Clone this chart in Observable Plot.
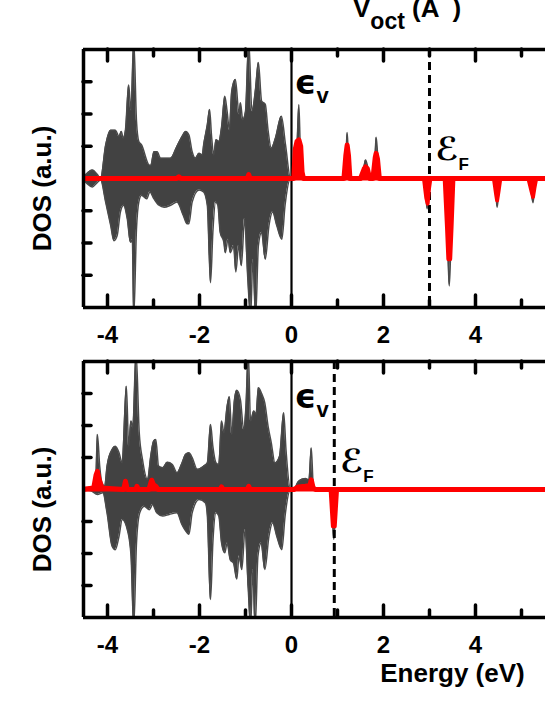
<!DOCTYPE html>
<html><head><meta charset="utf-8">
<script src="https://cdn.jsdelivr.net/npm/d3@7"></script>
<script src="https://cdn.jsdelivr.net/npm/@observablehq/plot@0.6"></script>
<style>
html,body{margin:0;padding:0;background:#fff;overflow:hidden;}
#wrap{position:relative;width:545px;height:705px;overflow:hidden;}
.abs{position:absolute;left:0;}
</style></head><body><div id="wrap">
<svg class="abs" style="top:0" width="545" height="40"><text x="353" y="17" font-family="Liberation Sans, Arial, sans-serif" font-weight="bold" font-size="26">V<tspan dy="12" font-size="23">oct</tspan><tspan dy="-12"> (A</tspan><tspan dy="-16" font-size="22">−</tspan><tspan dy="16">)</tspan></text></svg>
</div>
<script>
// ---------- DATA (energy in eV, DOS in arbitrary units) ----------
const xTicks = [-4, -2, 0, 2, 4];
const xTickLabels = ["-4", "-2", "0", "2", "4"];
const xMinorTicks = [-3, -1, 1, 3, 5];
const yTicks = [-3, -2, -1, 1, 2, 3];
const fermiTop = 3.0;
const fermiBottom = 0.93;

const topGrayUp = [[-4.55,0],[-4.45,0.15],[-4.33,0.26],[-4.22,0.12],[-4.15,0],[-4.04,1.04],[-3.93,1.5],[-3.83,1.5],[-3.75,1.3],[-3.70,1.46],[-3.66,1.25],[-3.61,1.5],[-3.54,2.9],[-3.49,2.1],[-3.43,4.3],[-3.37,1.77],[-3.32,1.15],[-3.26,1.04],[-3.10,0.42],[-3.06,0.4],[-2.99,0.83],[-2.92,0.83],[-2.85,0.63],[-2.63,0.63],[-2.49,1.0],[-2.38,1.3],[-2.30,1.46],[-2.23,1.35],[-2.16,0.83],[-2.09,0.63],[-2.01,0.78],[-1.94,0.73],[-1.91,1.04],[-1.83,1.67],[-1.78,2.14],[-1.74,1.35],[-1.69,0.73],[-1.64,1.2],[-1.58,1.15],[-1.52,1.6],[-1.45,2.55],[-1.40,2.08],[-1.35,1.5],[-1.30,2.7],[-1.22,3.07],[-1.14,1.98],[-1.11,2.35],[-1.06,1.82],[-1.0,2.08],[-0.93,4.3],[-0.86,2.08],[-0.78,2.8],[-0.72,3.6],[-0.65,2.4],[-0.57,2.3],[-0.51,1.5],[-0.44,0.94],[-0.35,1.25],[-0.22,1.93],[-0.13,1.04],[-0.02,0],[0.05,0],[0.12,1.0],[0.16,2.29],[0.19,1.0],[0.26,0],[1.14,0],[1.19,0.9],[1.21,1.43],[1.23,0.9],[1.27,0],[1.50,0],[1.58,0.4],[1.61,0.57],[1.65,0.4],[1.70,0],[1.77,0],[1.82,0.8],[1.84,1.28],[1.87,0.8],[1.91,0],[5.6,0]];
const topGrayDown = [[-4.55,0],[-4.45,-0.15],[-4.33,-0.26],[-4.22,-0.12],[-4.15,-0.05],[-4.04,-0.73],[-3.93,-1.46],[-3.86,-1.93],[-3.79,-1.77],[-3.72,-1.04],[-3.65,-0.83],[-3.57,-1.25],[-3.50,-1.98],[-3.46,-1.9],[-3.43,-4.3],[-3.37,-1.56],[-3.32,-0.73],[-3.26,-0.52],[-3.15,-0.63],[-3.08,-0.42],[-2.99,-0.63],[-2.88,-0.83],[-2.77,-0.89],[-2.63,-0.83],[-2.49,-0.73],[-2.35,-1.15],[-2.27,-1.4],[-2.23,-1.4],[-2.16,-0.73],[-2.01,-0.36],[-1.91,-0.42],[-1.83,-0.83],[-1.76,-3.23],[-1.71,-1.67],[-1.65,-0.73],[-1.60,-0.83],[-1.55,-1.67],[-1.47,-1.98],[-1.44,-2.3],[-1.38,-1.88],[-1.33,-2.3],[-1.26,-2.08],[-1.21,-2.9],[-1.15,-2.08],[-1.09,-2.7],[-1.02,-1.25],[-0.95,-3.1],[-0.89,-4.3],[-0.84,-2.5],[-0.78,-4.3],[-0.72,-2.08],[-0.65,-1.67],[-0.57,-2.5],[-0.49,-1.46],[-0.41,-1.04],[-0.32,-1.46],[-0.21,-1.88],[-0.14,-0.83],[-0.02,0],[2.88,0],[2.93,-0.7],[2.95,-0.94],[2.98,-0.5],[3.02,0],[3.33,0],[3.40,-2.3],[3.43,-3.33],[3.46,-2.3],[3.52,0],[4.40,0],[4.45,-0.6],[4.47,-0.89],[4.50,-0.5],[4.54,0],[5.15,0],[5.22,-0.5],[5.25,-0.75],[5.28,-0.4],[5.32,0],[5.6,0]];
const topRedUp = [[-4.55,0],[-2.5,0],[-2.45,0.05],[-2.4,0],[-0.96,0],[-0.93,0.12],[-0.90,0],[-0.02,0],[0.05,0],[0.08,0.9],[0.12,1.15],[0.16,1.2],[0.2,1.0],[0.23,0.2],[0.26,0],[1.14,0],[1.18,0.7],[1.21,1.04],[1.24,0.7],[1.27,0],[1.50,0],[1.58,0.3],[1.61,0.36],[1.65,0.3],[1.70,0],[1.77,0],[1.82,0.65],[1.84,0.78],[1.87,0.6],[1.91,0],[5.6,0]];
const topRedDown = [[-4.55,0],[2.88,0],[2.93,-0.6],[2.96,-0.78],[2.99,-0.3],[3.02,0],[3.33,0],[3.38,-1.5],[3.41,-2.5],[3.45,-2.5],[3.48,-1.5],[3.52,0],[4.40,0],[4.45,-0.5],[4.47,-0.68],[4.50,-0.4],[4.54,0],[5.15,0],[5.22,-0.4],[5.25,-0.57],[5.28,-0.3],[5.32,0],[5.6,0]];

const bottomGrayUp = [[-4.55,0],[-4.35,0.03],[-4.26,0.1],[-4.22,1.72],[-4.17,0.73],[-4.12,0.2],[-4.06,0.1],[-4.01,0.73],[-3.90,1.25],[-3.83,1.35],[-3.75,1.15],[-3.68,0.83],[-3.59,3.23],[-3.54,1.35],[-3.49,2.14],[-3.45,1.93],[-3.38,4.3],[-3.31,1.77],[-3.24,0.94],[-3.13,0.31],[-3.06,1.04],[-3.0,1.5],[-2.95,1.56],[-2.89,0.73],[-2.80,0.68],[-2.70,0.85],[-2.59,0.78],[-2.49,0.52],[-2.38,0.83],[-2.30,1.1],[-2.23,1.15],[-2.16,1.0],[-2.05,0.63],[-1.91,0.73],[-1.83,0.83],[-1.76,2.03],[-1.71,1.35],[-1.64,0.83],[-1.58,0.78],[-1.52,2.14],[-1.47,1.77],[-1.40,2.6],[-1.35,2.9],[-1.30,1.72],[-1.24,2.8],[-1.19,3.1],[-1.11,2.8],[-1.04,1.88],[-0.99,2.6],[-0.94,4.3],[-0.89,2.14],[-0.82,2.45],[-0.77,2.35],[-0.72,3.18],[-0.65,3.0],[-0.58,2.7],[-0.51,1.98],[-0.44,1.46],[-0.36,0.83],[-0.26,1.04],[-0.17,2.4],[-0.12,1.25],[-0.02,0],[0.05,0],[0.15,0.25],[0.30,0.34],[0.38,0.3],[0.43,1.3],[0.47,0.2],[0.52,0],[5.6,0]];
const bottomGrayDown = [[-4.55,0],[-4.35,-0.05],[-4.22,-0.16],[-4.10,-0.1],[-4.01,-0.73],[-3.90,-1.77],[-3.83,-1.88],[-3.75,-1.46],[-3.68,-0.94],[-3.57,-1.25],[-3.49,-2.03],[-3.43,-4.3],[-3.37,-1.67],[-3.30,-0.73],[-3.20,-0.52],[-3.09,-0.63],[-3.02,-0.47],[-2.93,-0.73],[-2.80,-0.83],[-2.66,-0.78],[-2.49,-0.73],[-2.38,-1.1],[-2.27,-1.35],[-2.23,-1.4],[-2.16,-0.73],[-2.01,-0.31],[-1.87,-0.42],[-1.83,-0.8],[-1.76,-3.44],[-1.71,-1.67],[-1.64,-0.73],[-1.58,-0.83],[-1.52,-1.67],[-1.45,-1.98],[-1.40,-1.67],[-1.33,-2.2],[-1.26,-2.3],[-1.19,-2.8],[-1.14,-2.08],[-1.08,-2.5],[-1.01,-1.25],[-0.94,-3.1],[-0.89,-4.3],[-0.84,-2.5],[-0.79,-4.3],[-0.73,-2.08],[-0.66,-1.67],[-0.58,-2.5],[-0.49,-1.46],[-0.41,-1.04],[-0.32,-1.46],[-0.21,-1.88],[-0.14,-0.83],[-0.02,0],[0.85,0],[0.89,-0.9],[0.92,-1.56],[0.95,-0.9],[0.99,0],[5.6,0]];
const bottomRedUp = [[-4.55,0],[-4.30,0.05],[-4.25,0.45],[-4.22,0.57],[-4.18,0.3],[-4.12,0.05],[-3.65,0],[-3.61,0.26],[-3.57,0],[-3.38,0],[-3.36,0.1],[-3.33,0],[-3.10,0],[-3.06,0.2],[-3.04,0.29],[-3.0,0.15],[-2.95,0.1],[-2.9,0],[-1.55,0],[-1.52,0.08],[-1.49,0],[-0.96,0],[-0.93,0.1],[-0.90,0],[-0.02,0],[0.05,0],[0.15,0.08],[0.3,0.1],[0.40,0.12],[0.43,0.3],[0.47,0.05],[0.52,0],[5.6,0]];
const bottomRedDown = [[-4.55,0],[0.85,0],[0.88,-0.7],[0.9,-1.15],[0.94,-1.15],[0.96,-0.7],[0.99,0],[5.6,0]];

// ---------- DRAWING ----------
(function () {
const FONT = "Liberation Sans, Arial, sans-serif";
const GRAY = "#424242";
const RED = "#ff0000";

function panel(o) {
  const width = 545, marginLeft = 83, marginRight = 0;
  const fh = o.height - o.marginTop - o.marginBottom;
  const fw = width - marginLeft - marginRight;
  const X = d => d[0], Y = d => d[1];
  const tick = {stroke: "black", strokeWidth: 3.5, strokeLinecap: "round"};
  const marks = [
    Plot.areaY(o.grayUp, {x: X, y: Y, fill: GRAY, curve: "monotone-x", clip: true}),
    Plot.areaY(o.grayDown, {x: X, y: Y, fill: GRAY, curve: "monotone-x", clip: true}),
    Plot.lineY(o.grayUp, {x: X, y: Y, stroke: "#4a4a4a", strokeWidth: 1.5, curve: "monotone-x", clip: true}),
    Plot.lineY(o.grayDown, {x: X, y: Y, stroke: "#4a4a4a", strokeWidth: 1.5, curve: "monotone-x", clip: true}),
    Plot.ruleX([0], {stroke: "black", strokeWidth: 2.2}),
    Plot.ruleX([o.fermi], {stroke: "black", strokeWidth: 3, strokeDasharray: "8,5"}),
    Plot.areaY(o.redUp, {x: X, y: Y, fill: RED, clip: true}),
    Plot.areaY(o.redDown, {x: X, y: Y, fill: RED, clip: true}),
    Plot.lineY(o.redUp, {x: X, y: Y, stroke: RED, strokeWidth: 5, clip: true}),
    Plot.lineY(o.redDown, {x: X, y: Y, stroke: RED, strokeWidth: 4, clip: true}),
    Plot.ruleX([-4.522], {stroke: "black", strokeWidth: 3.5}),
    Plot.ruleY([4, -4], {stroke: "black", strokeWidth: 3.5}),
    Plot.ruleX(xTicks, {...tick, insetBottom: fh - 12}),
    Plot.ruleX(xMinorTicks, {...tick, insetBottom: fh - 7}),
    Plot.ruleX(xTicks, {...tick, insetTop: fh - 12}),
    Plot.ruleX(xMinorTicks, {...tick, insetTop: fh - 7}),
    Plot.ruleY(yTicks, {...tick, insetRight: fw - 8}),
    Plot.axisX({ticks: xTicks, tickSize: 0, tickPadding: 18, label: null, tickFormat: (d, i) => xTickLabels[i],
      fontSize: 24, fontWeight: "bold", fontFamily: FONT}),
    Plot.text(["DOS (a.u.)"], {frameAnchor: "left", textAnchor: "middle", lineAnchor: "middle",
      rotate: -90, dx: -41, dy: o.labelDy, fontSize: 26, fontWeight: "bold", fontFamily: FONT}),
    Plot.text([{x: 0}], {x: "x", text: () => "ϵ", frameAnchor: "top", textAnchor: "start", lineAnchor: "middle",
      dx: 3, dy: o.epsDy, fontSize: 34, fontWeight: "bold", fontFamily: "DejaVu Sans"}),
    Plot.text([{x: 0}], {x: "x", text: () => "v", frameAnchor: "top", textAnchor: "start", lineAnchor: "bottom",
      dx: 25, dy: o.epsDy + 19, fontSize: 22, fontWeight: "bold", fontFamily: FONT}),
    Plot.text([{x: o.fermi}], {x: "x", text: () => "ℰ", frameAnchor: "top", textAnchor: "start", lineAnchor: "middle",
      dx: 6, dy: o.efDy, fontSize: 32, fontWeight: "bold", fontFamily: "DejaVu Sans"}),
    Plot.text([{x: o.fermi}], {x: "x", text: () => "F", frameAnchor: "top", textAnchor: "start", lineAnchor: "bottom",
      dx: 29, dy: o.efDy + 20, fontSize: 17, fontWeight: "bold", fontFamily: FONT})
  ];
  if (o.xLabel) marks.push(Plot.text([o.xLabel], {frameAnchor: "bottom", textAnchor: "middle", lineAnchor: "middle",
      dx: 138, dy: 56, fontSize: 26, fontWeight: "bold", fontFamily: FONT}));
  return Plot.plot({
    width, height: o.height, marginLeft, marginRight, marginTop: o.marginTop, marginBottom: o.marginBottom,
    x: {domain: [-4.522, 5.522], label: null},
    y: {domain: [-4, 4], axis: null},
    style: {fontFamily: FONT, fontWeight: "bold", fontSize: "23px", background: "transparent", overflow: "visible", color: "black"},
    marks
  });
}

const wrap = document.getElementById("wrap");
const topPanel = panel({grayUp: topGrayUp, grayDown: topGrayDown, redUp: topRedUp, redDown: topRedDown,
  fermi: fermiTop, height: 345, marginTop: 49, marginBottom: 38, labelDy: 10, epsDy: 34, efDy: 100});
topPanel.classList.add("abs"); topPanel.style.top = "0px";
wrap.appendChild(topPanel);
const bottomPanel = panel({grayUp: bottomGrayUp, grayDown: bottomGrayDown, redUp: bottomRedUp, redDown: bottomRedDown,
  fermi: fermiBottom, height: 360, marginTop: 16, marginBottom: 88, labelDy: 20, epsDy: 36, efDy: 100, xLabel: "Energy (eV)"});
bottomPanel.classList.add("abs"); bottomPanel.style.top = "345px";
wrap.appendChild(bottomPanel);
})();
</script>
</body></html>
